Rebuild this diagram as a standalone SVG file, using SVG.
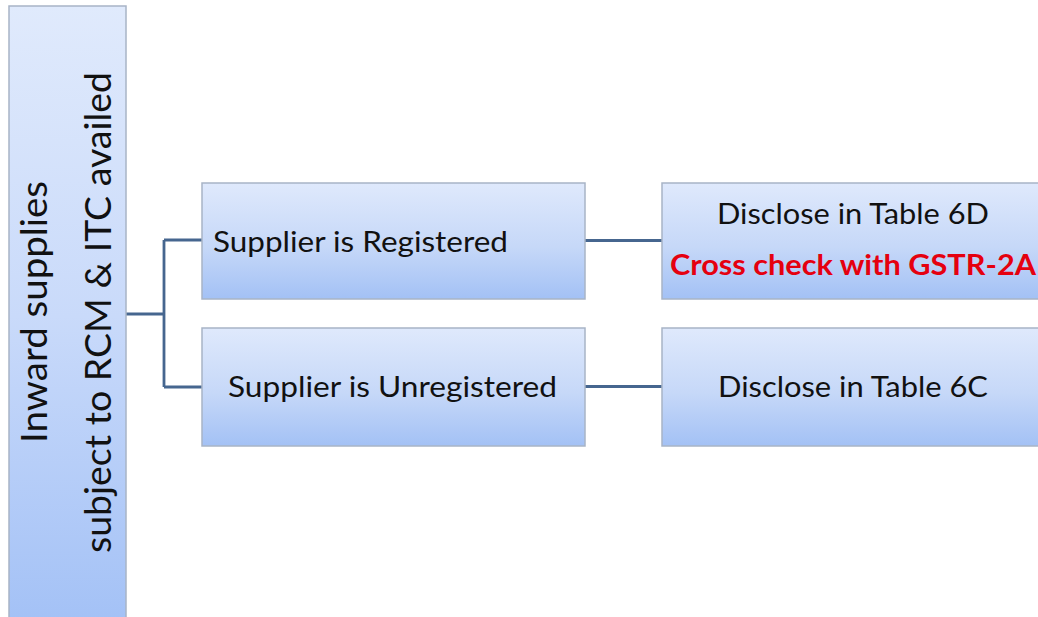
<svg xmlns="http://www.w3.org/2000/svg" width="1038" height="617" viewBox="0 0 1038 617">
  <defs>
    <linearGradient id="boxFill" x1="0" y1="0" x2="0" y2="1">
      <stop offset="0" stop-color="#dfe9fc"/>
      <stop offset="0.55" stop-color="#c6d8f8"/>
      <stop offset="1" stop-color="#a3c1f5"/>
    </linearGradient>
    <linearGradient id="tallFill" x1="0" y1="0" x2="0" y2="1">
      <stop offset="0" stop-color="#e0eafc"/>
      <stop offset="0.5" stop-color="#c9dafa"/>
      <stop offset="1" stop-color="#a3c1f6"/>
    </linearGradient>
    <style>
      .box { stroke: #a8b4c6; stroke-width: 1.5; }
      .lbl { font-family: Lato, "Open Sans", "Liberation Sans", sans-serif; fill: #111; }
      .big { font-size: 36px; }
      .mid { font-size: 29px; }
      .warn { font-family: Lato, "Open Sans", "Liberation Sans", sans-serif; font-size: 29px; font-weight: bold; fill: #e5000f; }
      .wire { fill: none; stroke: #46668f; stroke-width: 2.8; }
    </style>
  </defs>

  <rect width="1038" height="617" fill="#ffffff"/>

  <!-- connectors -->
  <g id="connectors">
    <path class="wire" d="M126 314 H164 M164 240 V387 M164 240 H202 M164 387 H202"/>
    <path class="wire" d="M585 240.5 H662"/>
    <path class="wire" d="M585 386.5 H662"/>
  </g>

  <!-- root node: vertical title -->
  <g id="root">
    <rect class="box" x="9" y="6" width="117" height="620" fill="url(#tallFill)"/>
    <text class="lbl big" transform="translate(47 443) rotate(-90)" textLength="262" lengthAdjust="spacingAndGlyphs">Inward supplies</text>
    <text class="lbl big" transform="translate(111 553) rotate(-90)" textLength="481" lengthAdjust="spacingAndGlyphs">subject to RCM &amp; ITC availed</text>
  </g>

  <g id="registered">
    <rect class="box" x="202" y="183" width="383" height="116" fill="url(#boxFill)"/>
    <text class="lbl mid" x="213" y="252" textLength="295" lengthAdjust="spacingAndGlyphs">Supplier is Registered</text>
  </g>

  <g id="unregistered">
    <rect class="box" x="202" y="328" width="383" height="118" fill="url(#boxFill)"/>
    <text class="lbl mid" x="228" y="397" textLength="329" lengthAdjust="spacingAndGlyphs">Supplier is Unregistered</text>
  </g>

  <g id="table6d">
    <rect class="box" x="662" y="183" width="390" height="116" fill="url(#boxFill)"/>
    <text class="lbl mid" x="717" y="224" textLength="272" lengthAdjust="spacingAndGlyphs">Disclose in Table 6D</text>
    <text class="warn" x="670" y="275" textLength="366" lengthAdjust="spacingAndGlyphs">Cross check with GSTR-2A</text>
  </g>

  <g id="table6c">
    <rect class="box" x="662" y="328" width="390" height="118" fill="url(#boxFill)"/>
    <text class="lbl mid" x="718" y="397" textLength="270" lengthAdjust="spacingAndGlyphs">Disclose in Table 6C</text>
  </g>
</svg>
